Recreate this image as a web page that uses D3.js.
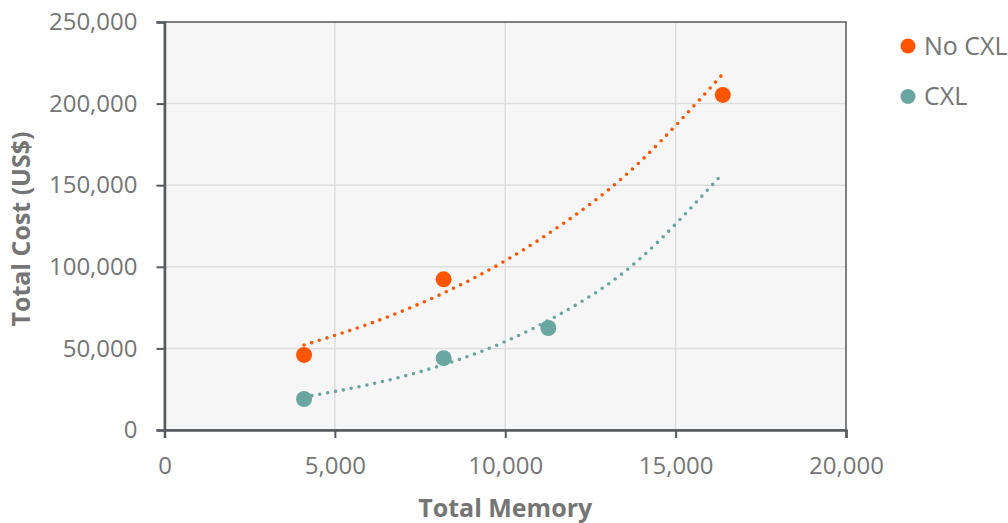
<!DOCTYPE html>
<html>
<head>
<meta charset="utf-8">
<script src="https://cdn.jsdelivr.net/npm/d3@7"></script>
<style>
body { margin:0; background:#fff; font-family:"Open Sans", sans-serif; }
</style>
</head>
<body>
<svg id="graph"></svg>
<script>
// series
let seriesNames = ["No CXL","CXL"];
let seriesColors = ["#ff5500","#6aa6a1"];
let noCxlMemory = [4096, 8192, 16384];
let noCxlCost = [46000, 92300, 205300];
let cxlMemory = [4096, 8192, 11264];
let cxlCost = [19000, 44000, 62500];
// dotted trendlines
let noCxlTrendMemory = [4096, 6000, 8000, 10000, 12000, 14000, 16384];
let noCxlTrendCost = [52100, 65000, 82100, 103700, 130900, 165200, 218100];
let cxlTrendMemory = [4096, 6000, 8000, 10000, 12000, 14000, 16250];
let cxlTrendCost = [20200, 27800, 38800, 54200, 75700, 105800, 154200];

let xTicks = [0, 5000, 10000, 15000, 20000];
let yTicks = [0, 50000, 100000, 150000, 200000, 250000];

let w = 1008;
let h = 523;
let leftmargin = 164.5;
let rightmargin = 162;
let topmargin = 22;
let downmargin = 93;
let plotw = w-leftmargin-rightmargin;
let ploth = h-downmargin-topmargin;

let series = [
    {name:seriesNames[0], color:seriesColors[0],
     pts:noCxlMemory.map((m,i)=>({x:m,y:noCxlCost[i]})),
     trend:noCxlTrendMemory.map((m,i)=>[m,noCxlTrendCost[i]])},
    {name:seriesNames[1], color:seriesColors[1],
     pts:cxlMemory.map((m,i)=>({x:m,y:cxlCost[i]})),
     trend:cxlTrendMemory.map((m,i)=>[m,cxlTrendCost[i]])}
]

let xscale = d3.scaleLinear().domain([0,20000]).range([0,plotw])
let yscale = d3.scaleLinear().domain([0,250000]).range([ploth,0])

let graph = d3.select("#graph").attr("width",w).attr("height",h)
let g = graph.append("g").attr("transform",`translate(${leftmargin},${topmargin})`)

g.append("rect").attr("width",plotw).attr("height",ploth).style("fill","#f6f6f6")

// grid
g.selectAll(".gx").data(xTicks.slice(1,-1)).enter().append("line")
    .attr("x1",d=>xscale(d)).attr("x2",d=>xscale(d)).attr("y1",0).attr("y2",ploth)
    .attr("stroke","#dedede").attr("stroke-width",1.5)
g.selectAll(".gy").data(yTicks.slice(1,-1)).enter().append("line")
    .attr("y1",d=>yscale(d)).attr("y2",d=>yscale(d)).attr("x1",0).attr("x2",plotw)
    .attr("stroke","#dedede").attr("stroke-width",1.5)

// frame
g.append("rect").attr("width",plotw).attr("height",ploth)
    .style("fill","none").style("stroke","#555a5e").style("stroke-width",1.5)

let fmt = d3.format(",")
let yaxis = d3.axisLeft(yscale).tickValues(yTicks).tickFormat(fmt).tickSize(8).tickPadding(19)
let yaxisg = g.append("g").call(yaxis)
let xaxis = d3.axisBottom(xscale).tickValues(xTicks).tickFormat(fmt).tickSize(8).tickPadding(19)
let xaxisg = g.append("g").attr("transform",`translate(0,${ploth})`).call(xaxis)
;[yaxisg,xaxisg].forEach(a=>{
    a.select(".domain").attr("stroke","#555a5e").attr("stroke-width",2.5)
    a.selectAll(".tick line").attr("stroke","#555a5e").attr("stroke-width",2)
    a.selectAll(".tick text").style("font-size","24px").style("fill","#757575")
        .style("font-family","'Open Sans', sans-serif")
})

// trendlines
let line = d3.line().x(d=>xscale(d[0])).y(d=>yscale(d[1])).curve(d3.curveNatural)
series.forEach(s=>{
    g.append("path").datum(s.trend).attr("d",line)
        .attr("fill","none").attr("stroke",s.color).attr("stroke-width",3.6)
        .attr("stroke-linecap","round").attr("stroke-dasharray","0 8")
})

// points
series.forEach(s=>{
    g.selectAll(null).data(s.pts).enter().append("circle")
        .attr("cx",d=>xscale(d.x)).attr("cy",d=>yscale(d.y)).attr("r",8)
        .style("fill",s.color)
})

// axis titles
graph.append("text").text("Total Memory")
    .attr("x",leftmargin+plotw/2).attr("y",517)
    .attr("text-anchor","middle").style("font-size","25px").style("font-weight","bold").style("fill","#757575")
graph.append("text").text("Total Cost (US$)")
    .attr("transform","translate(30,229) rotate(-90)")
    .attr("text-anchor","middle").style("font-size","25px").style("font-weight","bold").style("fill","#757575")

// legend
let legend = graph.selectAll(".leg").data(series).enter().append("g")
    .attr("transform",(d,i)=>`translate(908,${46+i*50.5})`)
legend.append("circle").attr("r",7.5).style("fill",d=>d.color)
legend.append("text").text(d=>d.name).attr("x",16).attr("dy","0.35em")
    .style("font-size","25px").style("fill","#757575")
</script>
</body>
</html>
